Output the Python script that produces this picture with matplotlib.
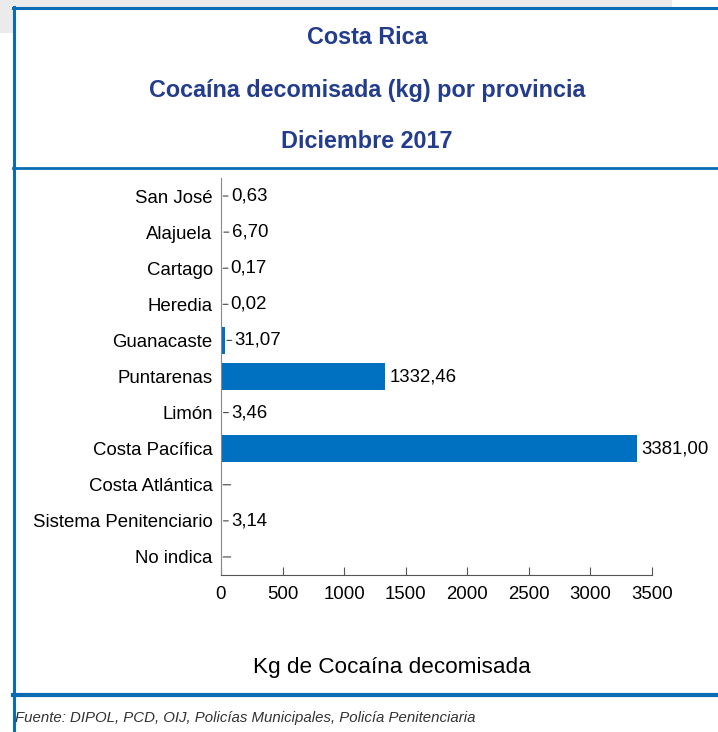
import matplotlib
matplotlib.use('Agg')
import matplotlib.pyplot as plt
from matplotlib import font_manager
from matplotlib.lines import Line2D
from matplotlib.patches import Rectangle

provinces = ['San José', 'Alajuela', 'Cartago', 'Heredia', 'Guanacaste', 'Puntarenas',
             'Limón', 'Costa Pacífica', 'Costa Atlántica', 'Sistema Penitenciario', 'No indica']
kg = [0.63, 6.70, 0.17, 0.02, 31.07, 1332.46, 3.46, 3381.00, 0.0, 3.14, 0.0]
x_ticks = [0, 500, 1000, 1500, 2000, 2500, 3000, 3500]

title_lines = ['Costa Rica', 'Cocaína decomisada (kg) por provincia', 'Diciembre 2017']
x_label = 'Kg de Cocaína decomisada'
source = 'Fuente: DIPOL, PCD, OIJ, Policías Municipales, Policía Penitenciaria'

BAR_COLOR = '#0070C0'
TITLE_COLOR = '#233D8C'
FRAME_COLOR = '#0A6DB3'

names = {f.name for f in font_manager.fontManager.ttflist}
if 'Liberation Sans Narrow' in names:
    NARROW = ['Liberation Sans Narrow', 'DejaVu Sans']
    fs_tick, fs_title, fs_xlabel = 15, 17, 19.5
else:
    NARROW = ['Liberation Sans', 'DejaVu Sans']
    fs_tick, fs_title, fs_xlabel = 13.4, 16.8, 16.2


def fmt(v):
    return ('%.2f' % v).replace('.', ',')


W, H = 718, 732
fig = plt.figure(figsize=(W / 100, H / 100), dpi=100)


def fx(px):
    return px / W


def fy(py):
    return 1 - py / H


# gray shadow behind the frame
fig.patches.append(Rectangle((0, fy(7)), fx(672), 7 / H, transform=fig.transFigure,
                             facecolor='#ebebeb', edgecolor='none', zorder=0))
fig.patches.append(Rectangle((0, fy(33)), fx(13), 33 / H, transform=fig.transFigure,
                             facecolor='#ebebeb', edgecolor='none', zorder=0))

# frame lines
for y, lw in [(8, 2.2), (168, 2.0), (695, 3.0)]:
    fig.add_artist(Line2D([fx(13), 1], [fy(y), fy(y)], transform=fig.transFigure,
                          color=FRAME_COLOR, lw=lw))
fig.add_artist(Line2D([fx(14), fx(14)], [fy(7), 0], transform=fig.transFigure,
                      color=FRAME_COLOR, lw=2.2))

# titles
for text, y in zip(title_lines, [38, 90, 141]):
    fig.text(fx(367), fy(y), text, ha='center', va='center', color=TITLE_COLOR,
             fontsize=fs_title, fontweight='bold', family=NARROW)

ax = fig.add_axes([fx(221), fy(575), fx(652) - fx(221), (575 - 178) / H])
pos = list(range(len(provinces)))
ax.barh(pos, kg, height=0.74, color=BAR_COLOR)
ax.set_ylim(len(provinces) - 0.5, -0.5)
ax.set_xlim(0, 3500)
ax.set_yticks(pos)
ax.set_yticklabels(provinces, family=NARROW, fontsize=fs_tick)
ax.set_xticks(x_ticks)
ax.set_xticklabels([str(t) for t in x_ticks], family=NARROW, fontsize=fs_tick)
ax.tick_params(axis='y', length=0, pad=6)
ax.tick_params(axis='x', direction='in', length=6, pad=8, color='#555555')
for s in ['top', 'right']:
    ax.spines[s].set_visible(False)
ax.spines['left'].set_color('#888888')
ax.spines['bottom'].set_color('#555555')

for i, v in enumerate(kg):
    label = fmt(v) if v > 0 else ''
    if v < 100:
        ax.annotate(label, xy=(v, i), xytext=(7, 0), textcoords='offset points',
                    va='center', ha='left', fontsize=fs_tick, family=NARROW,
                    arrowprops=dict(arrowstyle='-', color='#444444', lw=0.8,
                                    shrinkA=0, shrinkB=1.5))
    else:
        ax.annotate(label, xy=(v, i), xytext=(3, 0), textcoords='offset points',
                    va='center', ha='left', fontsize=fs_tick, family=NARROW)

fig.text(fx(392), fy(668), x_label, ha='center', va='center',
         fontsize=fs_xlabel, family=NARROW)
fig.text(fx(15), fy(718), source, ha='left', va='center', fontsize=10.8,
         style='italic', color='#333333', family=['Liberation Sans', 'DejaVu Sans'])

fig.savefig('out.png', dpi=100)
